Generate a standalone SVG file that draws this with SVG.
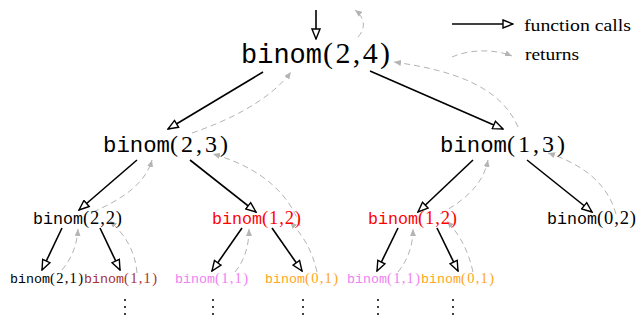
<svg xmlns="http://www.w3.org/2000/svg" width="637" height="320" viewBox="0 0 637 320">
<style>
.call{fill:none;stroke:#000;stroke-width:1.6;marker-end:url(#open)}
.ret{fill:none;stroke:#b4b4b4;stroke-width:1;stroke-dasharray:6,4;marker-end:url(#gray)}
.tt{font-family:"Liberation Mono","DejaVu Sans Mono",monospace}
.rm{font-family:"Liberation Serif","DejaVu Serif",serif}
.l0{font-size:27px}.a0{font-size:30px}
.l1{font-size:22px}.a1{font-size:24px}
.l2{font-size:16.7px}.a2{font-size:18.5px}
.l3{font-size:13.3px}.a3{font-size:14.5px}
.red{fill:#ff0000}.brown{fill:#a83232}.pink{fill:#f080f0}.orange{fill:#ffa520}
.dot{fill:#000}
</style>
<defs>
<marker id="open" viewBox="0 0 12 10" refX="11" refY="5" markerWidth="12" markerHeight="10" markerUnits="userSpaceOnUse" orient="auto">
<path d="M1,1 L11,5 L1,9 z" fill="#fff" stroke="#000" stroke-width="1.4"/>
</marker>
<marker id="gray" viewBox="0 0 7 6" refX="7" refY="3" markerWidth="7" markerHeight="6" markerUnits="userSpaceOnUse" orient="auto">
<path d="M0,0 L7,3 L0,6 z" fill="#b4b4b4"/>
</marker>
</defs>
<g id="connectors">
<path class="call" d="M316,10 L316,39"/>
<path class="call" d="M263,72 L168,129"/>
<path class="call" d="M370,71 L503,129"/>
<path class="call" d="M137,160 L79,210"/>
<path class="call" d="M190,160 L256,212"/>
<path class="call" d="M473,160 L418,212"/>
<path class="call" d="M527,160 L592,212"/>
<path class="call" d="M62,228 L42,270"/>
<path class="call" d="M100,228 L120,270"/>
<path class="call" d="M242,228 L212,271"/>
<path class="call" d="M272,228 L302,271"/>
<path class="call" d="M398,228 L377,271"/>
<path class="call" d="M437,228 L458,271"/>
<path class="ret" d="M358,37 C367,27 364,17 355,10"/>
<path class="ret" d="M192,133 C230,120 270,100 291,72"/>
<path class="ret" d="M518,127 C500,85 450,70 394,62"/>
<path class="ret" d="M93,212 C120,200 145,185 152,160"/>
<path class="ret" d="M300,226 C290,195 262,168 213,154"/>
<path class="ret" d="M440,214 C465,200 483,185 488,160"/>
<path class="ret" d="M616,214 C608,185 585,165 548,153"/>
<path class="ret" d="M62,270 C72,258 77,245 78,229"/>
<path class="ret" d="M137,273 C135,250 125,235 110,221"/>
<path class="ret" d="M235,272 C245,260 249,245 249,229"/>
<path class="ret" d="M317,272 C312,250 303,235 290,222"/>
<path class="ret" d="M398,272 C408,260 413,245 413,229"/>
<path class="ret" d="M473,272 C468,250 460,235 447,221"/>
</g>
<g id="legend">
<path class="call" d="M452,24 L513,24"/>
<text class="rm" x="524" y="31" font-size="16" textLength="107" lengthAdjust="spacingAndGlyphs">function calls</text>
<path class="ret" d="M452,57 C470,49 495,49 512,56"/>
<text class="rm" x="525" y="60" font-size="16" textLength="54" lengthAdjust="spacingAndGlyphs">returns</text>
</g>
<g id="n24">
<text class="tt l0" x="241" y="63" textLength="81" lengthAdjust="spacingAndGlyphs">binom</text>
<text class="rm a0" x="323" y="63" textLength="67" lengthAdjust="spacing">(2,4)</text>
</g>
<g id="n23">
<text class="tt l1" x="103" y="152" textLength="67" lengthAdjust="spacingAndGlyphs">binom</text>
<text class="rm a1" x="170" y="152" textLength="58" lengthAdjust="spacing">(2,3)</text>
</g>
<g id="n13">
<text class="tt l1" x="440" y="152" textLength="67" lengthAdjust="spacingAndGlyphs">binom</text>
<text class="rm a1" x="507" y="152" textLength="58" lengthAdjust="spacing">(1,3)</text>
</g>
<g id="n22">
<text class="tt l2" x="33" y="224" textLength="50" lengthAdjust="spacingAndGlyphs">binom</text>
<text class="rm a2" x="83" y="224" textLength="39" lengthAdjust="spacing">(2,2)</text>
</g>
<g id="n12a" class="red">
<text class="tt l2" x="212" y="224" textLength="50" lengthAdjust="spacingAndGlyphs">binom</text>
<text class="rm a2" x="262" y="224" textLength="39" lengthAdjust="spacing">(1,2)</text>
</g>
<g id="n12b" class="red">
<text class="tt l2" x="368" y="224" textLength="50" lengthAdjust="spacingAndGlyphs">binom</text>
<text class="rm a2" x="418" y="224" textLength="39" lengthAdjust="spacing">(1,2)</text>
</g>
<g id="n02">
<text class="tt l2" x="547" y="224" textLength="50" lengthAdjust="spacingAndGlyphs">binom</text>
<text class="rm a2" x="597" y="224" textLength="39" lengthAdjust="spacing">(0,2)</text>
</g>
<g id="n21">
<text class="tt l3" x="10" y="283" textLength="40" lengthAdjust="spacingAndGlyphs">binom</text>
<text class="rm a3" x="50" y="283" textLength="33" lengthAdjust="spacing">(2,1)</text>
</g>
<g id="n11a" class="brown">
<text class="tt l3" x="84" y="283" textLength="40" lengthAdjust="spacingAndGlyphs">binom</text>
<text class="rm a3" x="124" y="283" textLength="33" lengthAdjust="spacing">(1,1)</text>
</g>
<g id="n11b" class="pink">
<text class="tt l3" x="175" y="283" textLength="40" lengthAdjust="spacingAndGlyphs">binom</text>
<text class="rm a3" x="215" y="283" textLength="33" lengthAdjust="spacing">(1,1)</text>
</g>
<g id="n01a" class="orange">
<text class="tt l3" x="265" y="283" textLength="40" lengthAdjust="spacingAndGlyphs">binom</text>
<text class="rm a3" x="305" y="283" textLength="33" lengthAdjust="spacing">(0,1)</text>
</g>
<g id="n11c" class="pink">
<text class="tt l3" x="347" y="283" textLength="40" lengthAdjust="spacingAndGlyphs">binom</text>
<text class="rm a3" x="387" y="283" textLength="33" lengthAdjust="spacing">(1,1)</text>
</g>
<g id="n01b" class="orange">
<text class="tt l3" x="421" y="283" textLength="40" lengthAdjust="spacingAndGlyphs">binom</text>
<text class="rm a3" x="461" y="283" textLength="33" lengthAdjust="spacing">(0,1)</text>
</g>
<g id="ellipses" class="dot">
<circle cx="125" cy="300" r="1"/><circle cx="125" cy="307" r="1"/><circle cx="125" cy="314" r="1"/>
<circle cx="213" cy="300" r="1"/><circle cx="213" cy="307" r="1"/><circle cx="213" cy="314" r="1"/>
<circle cx="303" cy="300" r="1"/><circle cx="303" cy="307" r="1"/><circle cx="303" cy="314" r="1"/>
<circle cx="378" cy="300" r="1"/><circle cx="378" cy="307" r="1"/><circle cx="378" cy="314" r="1"/>
<circle cx="453" cy="300" r="1"/><circle cx="453" cy="307" r="1"/><circle cx="453" cy="314" r="1"/>
</g>
</svg>
